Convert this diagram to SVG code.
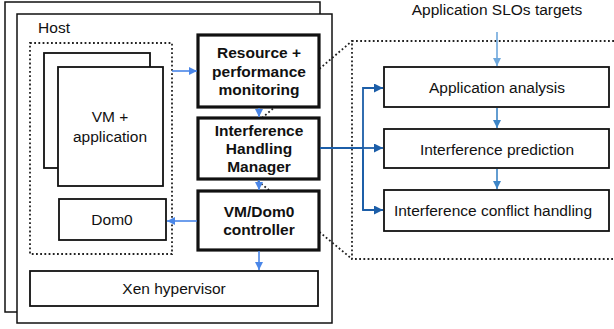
<svg xmlns="http://www.w3.org/2000/svg" width="614" height="329" viewBox="0 0 614 329">
  <style>
    text { font-family: "Liberation Sans", Arial, sans-serif; font-size: 15.5px; fill: #111; text-anchor: middle; }
    .b { font-weight: bold; }
    .frame { fill: #fff; stroke: #111; stroke-width: 1.5; }
    .box { fill: #fff; stroke: #111; stroke-width: 1.8; }
    .thick { fill: #fff; stroke: #111; stroke-width: 3.2; }
    .dots { fill: none; stroke: #222; stroke-width: 1.8; stroke-dasharray: 1.8 2.4; }
    .arr { fill: none; stroke: #4a86e8; stroke-width: 1.6; marker-end: url(#ha); }
    .arr2 { fill: none; stroke: #3d85c6; stroke-width: 1.6; marker-end: url(#hb); }
    .arr3 { fill: none; stroke: #6fa8dc; stroke-width: 1.6; marker-end: url(#hc); }
    .dk { fill: none; stroke: #1c5ea8; stroke-width: 1.8; }
    .dka { fill: none; stroke: #1c5ea8; stroke-width: 1.8; marker-end: url(#hd); }
  </style>
  <defs>
    <marker id="ha" viewBox="0 0 10 10" refX="10" refY="5" markerWidth="5" markerHeight="5" orient="auto" markerUnits="strokeWidth"><path d="M0,0 L10,5 L0,10 z" fill="#4a86e8"/></marker>
    <marker id="hb" viewBox="0 0 10 10" refX="10" refY="5" markerWidth="5" markerHeight="5" orient="auto" markerUnits="strokeWidth"><path d="M0,0 L10,5 L0,10 z" fill="#3d85c6"/></marker>
    <marker id="hc" viewBox="0 0 10 10" refX="10" refY="5" markerWidth="5" markerHeight="5" orient="auto" markerUnits="strokeWidth"><path d="M0,0 L10,5 L0,10 z" fill="#6fa8dc"/></marker>
    <marker id="hd" viewBox="0 0 10 10" refX="10" refY="5" markerWidth="5" markerHeight="5" orient="auto" markerUnits="strokeWidth"><path d="M0,0 L10,5 L0,10 z" fill="#1c5ea8"/></marker>
  </defs>

  <!-- host frames (stacked) -->
  <g id="host">
    <rect class="frame" x="5" y="2" width="315" height="310"/>
    <rect class="frame" x="17" y="14" width="315" height="309"/>
    <text x="54" y="33">Host</text>
    <rect class="dots" x="30" y="43" width="142" height="211"/>
  </g>

  <!-- zoom-out outline of the handling manager -->
  <g id="detail-frame">
    <path class="dots" d="M614,41 H352 V259 H614"/>
    <path class="dots" d="M262,118 L352,41 M258,181 L352,259"/>
  </g>

  <g id="vm">
    <rect class="box" x="44" y="53" width="106" height="115"/>
    <rect class="box" x="58" y="67" width="105" height="119"/>
    <text x="110" y="122">VM +</text>
    <text x="110" y="142">application</text>
  </g>

  <g id="dom0">
    <rect class="box" x="59" y="199" width="107" height="41"/>
    <text x="112" y="225">Dom0</text>
  </g>

  <g id="xen">
    <rect class="box" x="30" y="271" width="288" height="35"/>
    <text x="174" y="294">Xen hypervisor</text>
  </g>

  <g id="monitoring">
    <rect class="thick" x="198" y="35" width="121" height="72"/>
    <text class="b" x="259" y="58">Resource +</text>
    <text class="b" x="259" y="77">performance</text>
    <text class="b" x="259" y="95">monitoring</text>
  </g>

  <g id="manager">
    <rect class="thick" x="198" y="118" width="121" height="61"/>
    <text class="b" x="259" y="136">Interference</text>
    <text class="b" x="259" y="154">Handling</text>
    <text class="b" x="259" y="172">Manager</text>
  </g>

  <g id="controller">
    <rect class="thick" x="198" y="191" width="121" height="59"/>
    <text class="b" x="259" y="217">VM/Dom0</text>
    <text class="b" x="259" y="235">controller</text>
  </g>

  <g id="slo">
    <text x="497" y="15">Application SLOs targets</text>
  </g>

  <g id="analysis">
    <rect class="box" x="384" y="67" width="225" height="40"/>
    <text x="497" y="93">Application analysis</text>
  </g>

  <g id="prediction">
    <rect class="box" x="384" y="129" width="225" height="39"/>
    <text x="497" y="155">Interference prediction</text>
  </g>

  <g id="conflict">
    <rect class="box" x="384" y="190" width="225" height="41"/>
    <text x="493" y="216">Interference conflict handling</text>
  </g>

  <g id="connectors">
    <line class="arr" x1="172" y1="71" x2="197" y2="71"/>
    <line class="arr" x1="259" y1="108" x2="259" y2="117"/>
    <line class="arr" x1="259" y1="180" x2="259" y2="190"/>
    <line class="arr" x1="259" y1="251" x2="259" y2="270"/>
    <line class="arr" x1="197" y1="221" x2="167" y2="221"/>
    <line class="arr3" x1="497" y1="32" x2="497" y2="66"/>
    <line class="arr2" x1="497" y1="108" x2="497" y2="128"/>
    <line class="arr2" x1="497" y1="169" x2="497" y2="189"/>
    <line class="dk" x1="320" y1="148" x2="363" y2="148"/>
    <line class="dka" x1="363" y1="148" x2="383" y2="148"/>
    <path class="dka" d="M363,210 V88 H383"/>
    <path class="dka" d="M363,150 V210 H383"/>
  </g>
</svg>
